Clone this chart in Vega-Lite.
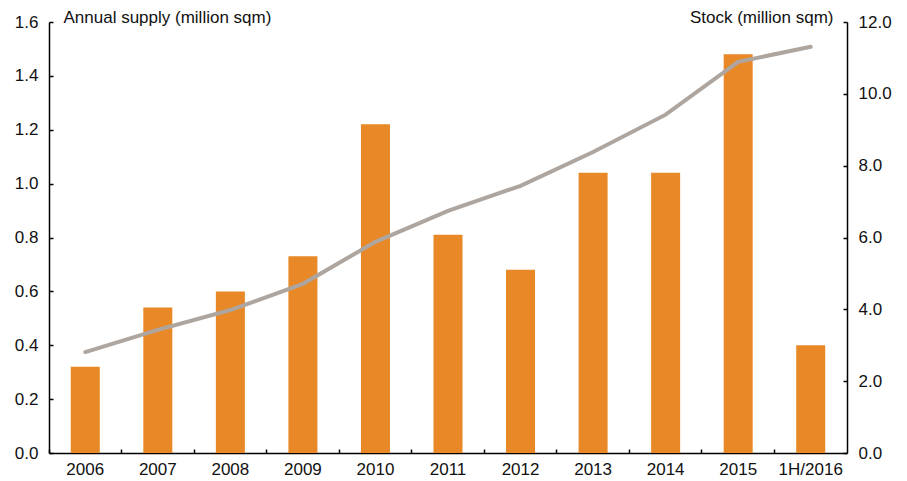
{
  "$schema": "https://vega.github.io/schema/vega-lite/v6.json",
  "width": 798,
  "height": 431,
  "autosize": {"type": "none"},
  "padding": {"left": 49, "top": 22, "right": 60, "bottom": 28},
  "background": "white",
  "config": {
    "view": {"stroke": null},
    "font": "Liberation Sans",
    "axis": {
      "grid": false,
      "domainColor": "#000000",
      "domainWidth": 1.5,
      "tickColor": "#000000",
      "tickWidth": 1.5,
      "labelFont": "Liberation Sans",
      "labelFontSize": 17,
      "labelColor": "#111111",
      "titleFont": "Liberation Sans",
      "titleFontSize": 17,
      "titleFontWeight": "normal",
      "titleColor": "#111111"
    }
  },
  "data": {
    "values": [
      {"period": "2006", "supply": 0.32, "stock": 2.81},
      {"period": "2007", "supply": 0.54, "stock": 3.43},
      {"period": "2008", "supply": 0.60, "stock": 3.98},
      {"period": "2009", "supply": 0.73, "stock": 4.71},
      {"period": "2010", "supply": 1.22, "stock": 5.88},
      {"period": "2011", "supply": 0.81, "stock": 6.74},
      {"period": "2012", "supply": 0.68, "stock": 7.44},
      {"period": "2013", "supply": 1.04, "stock": 8.38},
      {"period": "2014", "supply": 1.04, "stock": 9.42},
      {"period": "2015", "supply": 1.48, "stock": 10.89},
      {"period": "1H/2016", "supply": 0.40, "stock": 11.31}
    ]
  },
  "encoding": {
    "x": {
      "field": "period",
      "type": "nominal",
      "sort": null,
      "scale": {"paddingInner": 0, "paddingOuter": 0},
      "axis": {
        "title": null,
        "labelAngle": 0,
        "bandPosition": 0,
        "tickSize": -4,
        "labelPadding": 12,
        "labelBaseline": "top"
      }
    }
  },
  "layer": [
    {
      "mark": {"type": "bar", "color": "#E98827", "width": {"band": 0.4}},
      "encoding": {
        "y": {
          "field": "supply",
          "type": "quantitative",
          "scale": {"domain": [0, 1.6]},
          "axis": {
            "title": "Annual supply (million sqm)",
            "titleAngle": 0,
            "titleAlign": "left",
            "titleBaseline": "alphabetic",
            "titleX": 14,
            "titleY": 0,
            "values": [0, 0.2, 0.4, 0.6, 0.8, 1.0, 1.2, 1.4, 1.6],
            "format": ".1f",
            "tickSize": -4,
            "labelPadding": 15
          }
        }
      }
    },
    {
      "mark": {"type": "line", "color": "#ADA59E", "strokeWidth": 4, "strokeCap": "round"},
      "encoding": {
        "y": {
          "field": "stock",
          "type": "quantitative",
          "scale": {"domain": [0, 12]},
          "axis": {
            "orient": "right",
            "title": "Stock (million sqm)",
            "titleAngle": 0,
            "titleAlign": "right",
            "titleBaseline": "alphabetic",
            "titleX": -14,
            "titleY": 0,
            "values": [0, 2, 4, 6, 8, 10, 12],
            "format": ".1f",
            "tickSize": -4,
            "labelPadding": 15
          }
        }
      }
    }
  ],
  "resolve": {"scale": {"y": "independent"}}
}
